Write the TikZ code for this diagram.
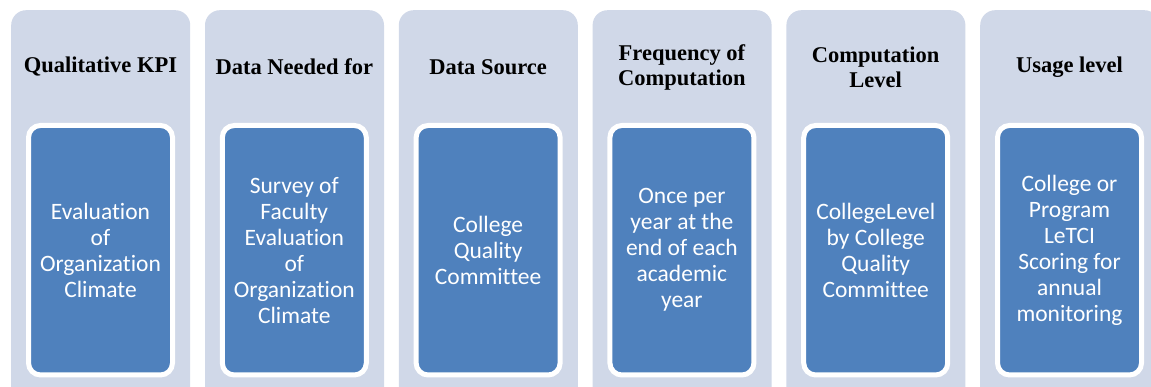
\documentclass[tikz,border=0pt]{standalone}
\usepackage{fontspec}
\newfontfamily\bodyfont[Ligatures=NoCommon]{Carlito}
\newfontfamily\headfont{Liberation Serif}
\definecolor{outerfill}{RGB}{208,216,232}
\definecolor{innerfill}{RGB}{79,129,189}
\begin{document}
\begin{tikzpicture}[x=1pt,y=1pt,
  colbox/.style={fill=outerfill, draw=none, rounded corners=15pt, minimum width=179pt, minimum height=400pt, anchor=north west, inner sep=0pt},
  headtext/.style={font=\headfont\bfseries\fontsize{22.5}{25}\selectfont, align=center, text=black, inner sep=0pt},
  itembox/.style={fill=innerfill, draw=white, line width=5pt, rounded corners=12pt, minimum width=144pt, minimum height=249.5pt, inner sep=0pt, align=center, text=white, font=\bodyfont\fontsize{23.5}{26}\selectfont}
]
\clip (0,0) rectangle (1151,387);
\fill[white] (0,0) rectangle (1151,387);
\foreach \i/\h/\b in {
  0/{Qualitative KPI}/{Evaluation\\of\\Organization\\Climate},
  1/{Data Needed for}/{Survey of\\Faculty\\Evaluation\\of\\Organization\\Climate},
  2/{Data Source}/{College\\Quality\\Committee},
  3/{Frequency of\\Computation}/{Once per\\year at the\\end of each\\academic\\year},
  4/{Computation\\Level}/{CollegeLevel\\by College\\Quality\\Committee},
  5/{Usage level}/{College or\\Program\\LeTCI\\Scoring for\\annual\\monitoring}} {
  \pgfmathsetmacro{\xx}{11+\i*193.8}
  \node[colbox] (col\i) at (\xx,377) {};
  \node[headtext] (head\i) at (\xx+89.5,387-67) {\h};
  \node[itembox] (item\i) at (\xx+89.5,387-250.25) {\b};
}
\end{tikzpicture}
\end{document}
